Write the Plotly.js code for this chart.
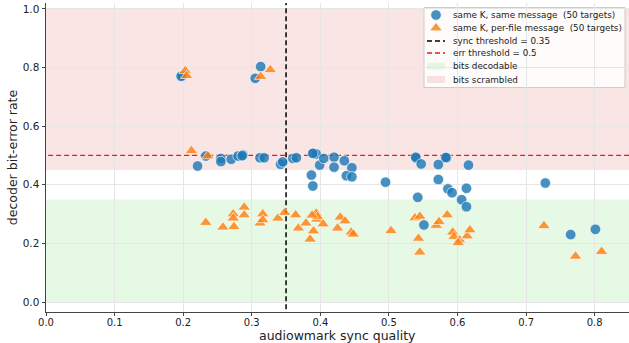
<!DOCTYPE html>
<html>
<head>
<meta charset="utf-8">
<script src="https://cdn.plot.ly/plotly-3.0.1.min.js"></script>
<style>html,body{margin:0;padding:0;background:#fff;}#chart{width:629px;height:343px;}</style>
</head>
<body>
<div id="chart"></div>
<script>
// same K, same message (50 targets)
const sameMsgX = [0.199,0.197,0.313,0.305,0.221,0.233,0.255,0.255,0.270,0.280,0.287,0.286,0.312,0.318,0.342,0.345,0.360,0.365,0.390,0.394,0.389,0.399,0.405,0.420,0.420,0.435,0.446,0.438,0.446,0.387,0.389,0.495,0.540,0.539,0.547,0.542,0.572,0.584,0.583,0.572,0.586,0.592,0.606,0.613,0.616,0.613,0.551,0.728,0.765,0.801];
const sameMsgY = [0.772,0.770,0.803,0.763,0.464,0.498,0.490,0.479,0.487,0.498,0.502,0.499,0.492,0.492,0.470,0.478,0.490,0.492,0.508,0.505,0.507,0.467,0.490,0.494,0.460,0.482,0.458,0.431,0.427,0.433,0.396,0.409,0.490,0.494,0.471,0.357,0.469,0.492,0.493,0.418,0.386,0.373,0.349,0.388,0.467,0.325,0.263,0.406,0.230,0.248];
// same K, per-file message (50 targets)
const perFileX = [0.203,0.205,0.327,0.313,0.212,0.236,0.233,0.258,0.273,0.273,0.274,0.289,0.289,0.312,0.316,0.316,0.338,0.348,0.364,0.368,0.379,0.385,0.390,0.394,0.395,0.396,0.388,0.404,0.425,0.429,0.436,0.445,0.448,0.503,0.538,0.545,0.543,0.545,0.569,0.573,0.585,0.593,0.595,0.603,0.601,0.614,0.618,0.726,0.772,0.810];
const perFileY = [0.789,0.772,0.792,0.769,0.516,0.498,0.271,0.255,0.300,0.286,0.257,0.323,0.297,0.269,0.300,0.280,0.286,0.305,0.297,0.252,0.269,0.214,0.242,0.303,0.282,0.291,0.296,0.266,0.252,0.289,0.276,0.238,0.231,0.243,0.287,0.292,0.217,0.170,0.261,0.274,0.297,0.238,0.223,0.212,0.202,0.225,0.246,0.260,0.156,0.172];
// thresholds and bands
const syncThreshold = 0.35;
const errThreshold = 0.5;
const decodableBand = [0.0, 0.35];
const scrambledBand = [0.45, 1.0];
const xTicks = [0,0.1,0.2,0.3,0.4,0.5,0.6,0.7,0.8];
const yTicks = [0,0.2,0.4,0.6,0.8,1.0];
const xTitle = 'audiowmark sync quality';
const yTitle = 'decoder bit-error rate';
const legendLabels = ['same K, same message  (50 targets)','same K, per-file message  (50 targets)','sync threshold = 0.35','err threshold = 0.5','bits decodable','bits scrambled'];

const xr = [0, 0.85];
const yr = [-0.034, 1.02];

const BLUE = 'rgba(31,119,180,0.82)';
const ORANGE = 'rgba(255,127,14,0.82)';
const GREEN = 'rgba(0,200,0,0.10)';
const PINK = 'rgba(214,39,40,0.12)';
const RED = '#f01616';

// plot area in pixels (for legend placement)
const M = {l:46, r:0, t:3, b:31};
const W = 629, H = 343;
const pw = W - M.l - M.r, ph = H - M.t - M.b;
const px = v => (v - M.l) / pw;
const py = v => (H - M.b - v) / ph;

const legRows = [15, 28, 41, 53, 66, 79.5];
const legSymX0 = 427, legSymX1 = 445, legTextX = 452;

const traces = [
  {x:[syncThreshold, syncThreshold], y:[yr[0]-0.1, yr[1]+0.1], type:'scatter', mode:'lines',
   line:{color:'black', width:1.5, dash:'5px,3px'}, hoverinfo:'skip'},
  {x:[xr[0]-1, xr[1]+1], y:[errThreshold, errThreshold], type:'scatter', mode:'lines',
   line:{color:RED, width:1.3, dash:'5px,3px'}, hoverinfo:'skip'},
  {x:sameMsgX, y:sameMsgY, type:'scatter', mode:'markers',
   marker:{symbol:'circle', size:10.5, color:BLUE, line:{color:'rgba(255,255,255,0.8)', width:0.8}}},
  {x:perFileX, y:perFileY, type:'scatter', mode:'markers',
   marker:{symbol:'triangle-up', size:11, color:ORANGE, line:{color:'rgba(255,255,255,0.8)', width:0.8}}},
  // legend symbols on an overlay (paper-like) axis
  {x:[px((legSymX0+legSymX1)/2)], y:[py(legRows[0])], xaxis:'x2', yaxis:'y2', type:'scatter', mode:'markers',
   marker:{symbol:'circle', size:10.5, color:BLUE, line:{color:'rgba(255,255,255,0.8)', width:0.8}}, hoverinfo:'skip'},
  {x:[px((legSymX0+legSymX1)/2)], y:[py(legRows[1])], xaxis:'x2', yaxis:'y2', type:'scatter', mode:'markers',
   marker:{symbol:'triangle-up', size:11, color:ORANGE, line:{color:'rgba(255,255,255,0.8)', width:0.8}}, hoverinfo:'skip'}
];

const shapes = [
  {type:'rect', xref:'paper', yref:'y', x0:0, x1:1, y0:decodableBand[0], y1:decodableBand[1], fillcolor:GREEN, line:{width:0}, layer:'between'},
  {type:'rect', xref:'paper', yref:'y', x0:0, x1:1, y0:scrambledBand[0], y1:scrambledBand[1], fillcolor:PINK, line:{width:0}, layer:'between'},
  // legend box
  {type:'rect', xref:'paper', yref:'paper', x0:px(424), x1:px(625), y0:py(87.5), y1:py(7.5),
   fillcolor:'rgba(255,255,255,0.82)', line:{color:'#cccccc', width:1}, layer:'between'},
  {type:'line', xref:'paper', yref:'paper', x0:px(legSymX0), x1:px(legSymX1), y0:py(legRows[2]), y1:py(legRows[2]),
   line:{color:'black', width:1.5, dash:'5px,3px'}, layer:'between'},
  {type:'line', xref:'paper', yref:'paper', x0:px(legSymX0), x1:px(legSymX1), y0:py(legRows[3]), y1:py(legRows[3]),
   line:{color:RED, width:1.3, dash:'5px,3px'}, layer:'between'},
  {type:'rect', xref:'paper', yref:'paper', x0:px(legSymX0), x1:px(legSymX1), y0:py(legRows[4]+3.5), y1:py(legRows[4]-3.5),
   fillcolor:GREEN, line:{width:0}, layer:'between'},
  {type:'rect', xref:'paper', yref:'paper', x0:px(legSymX0), x1:px(legSymX1), y0:py(legRows[5]+3.5), y1:py(legRows[5]-3.5),
   fillcolor:PINK, line:{width:0}, layer:'between'}
];

const annotations = legendLabels.map((t, i) => ({
  text:t, xref:'paper', yref:'paper', x:px(legTextX), y:py(legRows[i]), xanchor:'left', yanchor:'middle',
  showarrow:false, font:{size:8.8, family:'DejaVu Sans, sans-serif', color:'#222'}, borderpad:0
}));
annotations.push({text:xTitle, xref:'paper', yref:'paper', x:0.5, y:py(344), xanchor:'center', yanchor:'bottom',
  showarrow:false, font:{size:12.5, family:'DejaVu Sans, sans-serif', color:'#222'}, borderpad:0});

const layout = {
  width:W, height:H,
  margin:M,
  paper_bgcolor:'#fff', plot_bgcolor:'#fff',
  font:{family:'DejaVu Sans, sans-serif', size:11, color:'#222'},
  showlegend:false,
  shapes:shapes,
  annotations:annotations,
  xaxis:{range:xr, tickvals:xTicks, ticktext:xTicks.map(v=>v.toFixed(1)), showgrid:true, gridcolor:'#e6e6e6',
    zeroline:false, showline:true, linecolor:'#444', linewidth:1, ticks:'outside', ticklen:3, tickcolor:'#444',
    tickfont:{size:10}, ticklabelstandoff:-2, automargin:false},
  yaxis:{range:yr, tickvals:yTicks, ticktext:yTicks.map(v=>v.toFixed(1)), showgrid:true, gridcolor:'#e6e6e6',
    zeroline:false, showline:true, linecolor:'#444', linewidth:1, ticks:'outside', ticklen:3.5, tickcolor:'#444',
    tickfont:{size:10.5}, automargin:false,
    title:{text:yTitle, font:{size:12.5}, standoff:2}},
  xaxis2:{overlaying:'x', range:[0,1], visible:false, fixedrange:true},
  yaxis2:{overlaying:'y', range:[0,1], visible:false, fixedrange:true}
};

Plotly.newPlot('chart', traces, layout, {displayModeBar:false, staticPlot:true});
</script>
</body>
</html>
